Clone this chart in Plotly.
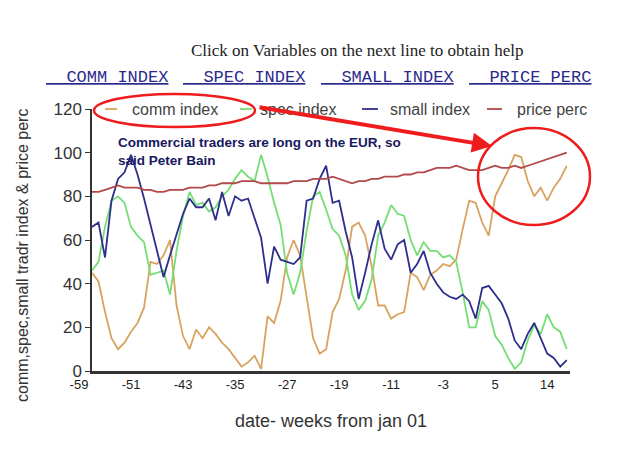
import plotly.graph_objects as go

# ---- data (index = week position; ticks every 8 weeks) ----
tick_labels = ["-59", "-51", "-43", "-35", "-27", "-19", "-11", "-3", "5", "14"]
tick_index = [0, 8, 16, 24, 32, 40, 48, 56, 64, 72]

comm_index = [45, 41, 27, 15, 10, 13, 18, 22, 29, 50, 49, 53, 60, 30, 16, 10, 19, 15, 20, 17,
              13, 10, 6, 2, 4, 7, 1, 25, 22, 32, 52, 60, 53, 34, 15, 8, 10, 27, 33, 46,
              66, 68, 62, 48, 30, 30, 24, 26, 27, 45, 43, 37, 44, 46, 49, 48, 51, 65, 78, 77,
              68, 62, 80, 86, 92, 99, 98, 87, 80, 84, 78, 84, 88, 94]
spec_index = [46, 50, 66, 78, 80, 77, 66, 62, 59, 44, 45, 46, 35, 55, 71, 82, 76, 77, 73, 75,
              80, 83, 88, 92, 89, 87, 99, 89, 77, 67, 45, 35, 45, 64, 80, 82, 74, 65, 62, 53,
              35, 28, 32, 42, 62, 68, 76, 72, 71, 60, 53, 59, 55, 55, 52, 53, 50, 36, 20, 20,
              32, 28, 16, 12, 6, 1, 4, 14, 21, 17, 26, 20, 18, 10]
small_index = [66, 68, 52, 78, 88, 91, 99, 90, 79, 67, 54, 43, 53, 62, 72, 79, 75, 75, 79, 69,
               82, 71, 80, 78, 79, 70, 61, 40, 57, 51, 50, 49, 52, 78, 79, 88, 94, 77, 78, 64,
               52, 33, 45, 58, 69, 56, 51, 58, 60, 45, 49, 55, 45, 40, 36, 34, 33, 35, 32, 24,
               38, 39, 35, 31, 24, 14, 10, 17, 22, 15, 8, 6, 2, 5]
price_perc = [82, 82, 83, 84, 85, 84, 84, 84, 83, 83, 82, 82, 83, 83, 83, 84, 84, 84, 85, 85,
              86, 86, 86, 87, 87, 87, 86, 86, 86, 86, 86, 87, 87, 87, 88, 88, 88, 89, 88, 87,
              86, 87, 87, 88, 88, 89, 89, 89, 90, 90, 91, 91, 92, 93, 93, 93, 94, 93, 92, 92,
              92, 93, 94, 93, 93, 94, 93, 94, 95, 96, 97, 98, 99, 100]

series_names = ["comm index", "spec index", "small index", "price perc"]
series_colors = ["#d9a35f", "#74de74", "#2e2e8c", "#b24848"]
weeks = list(range(len(comm_index)))

# plot area in pixels
L, R, T, B = 92, 570, 109, 371
W, H = 625, 469


def px(x):
    return (x - L) / (R - L)


def py(y):
    return (B - y) / (B - T)


fig = go.Figure()
for name, vals, col in zip(series_names, [comm_index, spec_index, small_index, price_perc], series_colors):
    fig.add_trace(go.Scatter(x=weeks, y=vals, mode="lines", name=name,
                             line=dict(color=col, width=1.8)))

fig.update_layout(
    width=W, height=H,
    margin=dict(l=L, r=W - R, t=T, b=H - B),
    paper_bgcolor="white", plot_bgcolor="white",
    font=dict(family="Arial, Liberation Sans, sans-serif", color="#333"),
    showlegend=False,
)
fig.update_xaxes(range=[0, 73.5], showgrid=False, zeroline=False,
                 showline=True, linecolor="#333", linewidth=2.5,
                 tickmode="array", tickvals=tick_index, ticktext=tick_labels,
                 ticks="", ticklabelshift=-13, tickfont=dict(size=13, color="#222"),
                 title=dict(text="date- weeks from jan 01", font=dict(size=18, color="#333"),
                            standoff=24))
fig.update_yaxes(range=[0, 120], showgrid=False, zeroline=False,
                 showline=True, linecolor="#333", linewidth=1.5,
                 tickmode="array", tickvals=[0, 20, 40, 60, 80, 100, 120],
                 ticks="outside", ticklen=5, tickcolor="#333",
                 tickfont=dict(size=17, color="#333"))

# y-axis title, placed where the original draws it
fig.add_annotation(xref="paper", yref="paper", x=px(22), y=py(256), xanchor="center",
                   yanchor="middle", showarrow=False, textangle=-90,
                   text="comm,spec,small tradr index & price perc",
                   font=dict(size=16, color="#333"))

# legend row (drawn in the same spot as the original legend)
legend_pos = [(105, 117, 130), (240, 252, 258), (362, 378, 388), (487, 502, 515)]
for (s0, s1, tx), name, col in zip(legend_pos, series_names, series_colors):
    fig.add_shape(type="line", xref="paper", yref="paper", x0=px(s0), x1=px(s1),
                  y0=py(109), y1=py(109), line=dict(color=col, width=1.8))
    fig.add_annotation(xref="paper", yref="paper", x=px(tx), y=py(110), xanchor="left",
                       yanchor="middle", showarrow=False, text=name,
                       font=dict(size=16, color="#444"))

# header texts
fig.add_annotation(xref="paper", yref="paper", x=px(357), y=py(50), showarrow=False,
                   xanchor="center", yanchor="middle",
                   text="Click on Variables on the next line to obtain help",
                   font=dict(family="Liberation Serif, Times New Roman, serif", size=17, color="#222"))
links = [("COMM INDEX", 44), ("SPEC INDEX", 181), ("SMALL INDEX", 319), ("PRICE PERC", 467)]
for txt, x0 in links:
    fig.add_annotation(xref="paper", yref="paper", x=px(x0), y=py(77), xanchor="left",
                       yanchor="middle", showarrow=False,
                       text="<u>&nbsp;&nbsp;" + txt + "</u>",
                       font=dict(family="Liberation Mono, Courier New, monospace", size=17,
                                 color="#2a2a8c"))

# commentary
fig.add_annotation(xref="paper", yref="paper", x=px(116), y=py(151), xanchor="left",
                   yanchor="middle", align="left", showarrow=False,
                   text="<b>Commercial traders are long on the EUR, so<br>said Peter Bain</b>",
                   font=dict(size=13.5, color="#181860"))

# red markup
red = "#ee1c1c"
fig.add_shape(type="circle", xref="paper", yref="paper", x0=px(94), x1=px(255),
              y0=py(127), y1=py(94), line=dict(color=red, width=2.5))
fig.add_shape(type="circle", xref="paper", yref="paper", x0=px(478), x1=px(590),
              y0=py(225), y1=py(128), line=dict(color=red, width=2.5))
fig.add_annotation(xref="paper", yref="paper", x=px(492), y=py(146), ax=258 - 492, ay=107 - 146,
                   text="", showarrow=True, arrowhead=2, arrowsize=1, arrowwidth=4,
                   arrowcolor=red)

fig.write_html("out.html")
